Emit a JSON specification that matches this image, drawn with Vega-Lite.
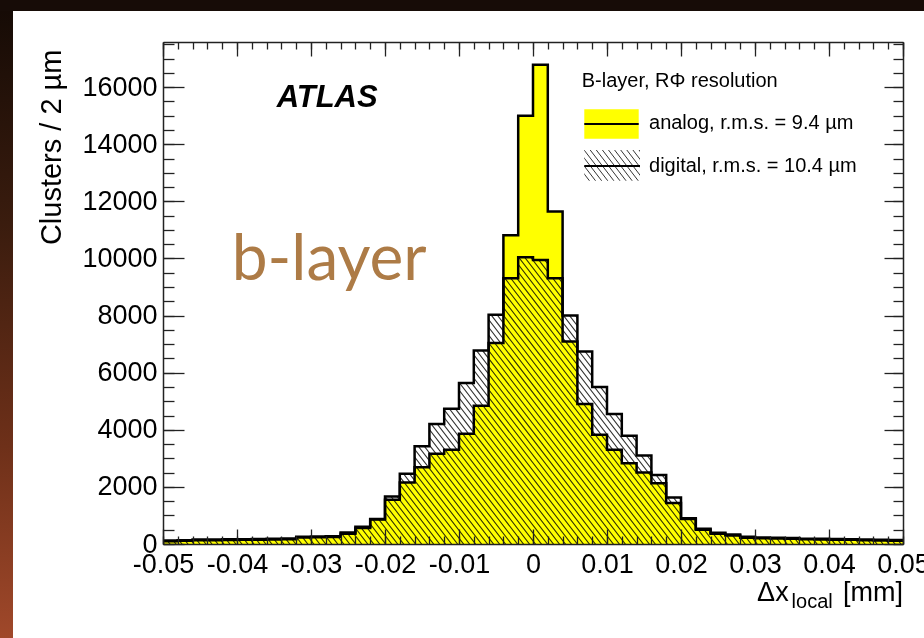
{
"$schema": "https://vega.github.io/schema/vega-lite/v6.json",
"width": 740, "height": 502,
"autosize": "none",
"padding": {"left": 163, "top": 42, "right": 21, "bottom": 94},
"background": "white",
"config": {
  "view": {"stroke": null},
  "locale": {"number": {"decimal": ".", "thousands": ",", "grouping": [3], "currency": ["$", ""], "minus": "-"}},
  "axis": {"labelFont": "Liberation Sans", "labelFontSize": 27, "labelColor": "#000", "tickColor": "#222", "tickWidth": 1.3, "domainColor": "#222", "domainWidth": 1.5, "grid": false, "zindex": 1, "titleFont": "Liberation Sans", "titleColor": "#000", "labelFlush": false, "labelOverlap": false, "labelBound": false},
  "text": {"font": "Liberation Sans"}
},
"data": {"values": [
{"lo":-0.05,"hi":-0.048,"analog":100,"digital":125},
{"lo":-0.048,"hi":-0.046,"analog":110,"digital":130},
{"lo":-0.046,"hi":-0.044,"analog":130,"digital":160},
{"lo":-0.044,"hi":-0.042,"analog":135,"digital":160},
{"lo":-0.042,"hi":-0.04,"analog":140,"digital":165},
{"lo":-0.04,"hi":-0.038,"analog":145,"digital":170},
{"lo":-0.038,"hi":-0.036,"analog":150,"digital":175},
{"lo":-0.036,"hi":-0.034,"analog":160,"digital":180},
{"lo":-0.034,"hi":-0.032,"analog":170,"digital":190},
{"lo":-0.032,"hi":-0.03,"analog":225,"digital":250},
{"lo":-0.03,"hi":-0.028,"analog":235,"digital":260},
{"lo":-0.028,"hi":-0.026,"analog":245,"digital":275},
{"lo":-0.026,"hi":-0.024,"analog":360,"digital":400},
{"lo":-0.024,"hi":-0.022,"analog":560,"digital":600},
{"lo":-0.022,"hi":-0.02,"analog":860,"digital":880},
{"lo":-0.02,"hi":-0.018,"analog":1550,"digital":1660},
{"lo":-0.018,"hi":-0.016,"analog":2150,"digital":2460},
{"lo":-0.016,"hi":-0.014,"analog":2690,"digital":3420},
{"lo":-0.014,"hi":-0.012,"analog":3160,"digital":4200},
{"lo":-0.012,"hi":-0.01,"analog":3300,"digital":4740},
{"lo":-0.01,"hi":-0.008,"analog":3860,"digital":5640},
{"lo":-0.008,"hi":-0.006,"analog":4840,"digital":6780},
{"lo":-0.006,"hi":-0.004,"analog":7040,"digital":8030},
{"lo":-0.004,"hi":-0.002,"analog":10810,"digital":9310},
{"lo":-0.002,"hi":0,"analog":15000,"digital":10040},
{"lo":0,"hi":0.002,"analog":16790,"digital":9950},
{"lo":0.002,"hi":0.004,"analog":11650,"digital":9310},
{"lo":0.004,"hi":0.006,"analog":7090,"digital":8000},
{"lo":0.006,"hi":0.008,"analog":4900,"digital":6740},
{"lo":0.008,"hi":0.01,"analog":3830,"digital":5500},
{"lo":0.01,"hi":0.012,"analog":3300,"digital":4550},
{"lo":0.012,"hi":0.014,"analog":2830,"digital":3790},
{"lo":0.014,"hi":0.016,"analog":2500,"digital":3100},
{"lo":0.016,"hi":0.018,"analog":2130,"digital":2420},
{"lo":0.018,"hi":0.02,"analog":1440,"digital":1630},
{"lo":0.02,"hi":0.022,"analog":880,"digital":900},
{"lo":0.022,"hi":0.024,"analog":500,"digital":530},
{"lo":0.024,"hi":0.026,"analog":360,"digital":390},
{"lo":0.026,"hi":0.028,"analog":300,"digital":330},
{"lo":0.028,"hi":0.03,"analog":220,"digital":250},
{"lo":0.03,"hi":0.032,"analog":200,"digital":230},
{"lo":0.032,"hi":0.034,"analog":190,"digital":220},
{"lo":0.034,"hi":0.036,"analog":180,"digital":210},
{"lo":0.036,"hi":0.038,"analog":165,"digital":185},
{"lo":0.038,"hi":0.04,"analog":155,"digital":180},
{"lo":0.04,"hi":0.042,"analog":150,"digital":175},
{"lo":0.042,"hi":0.044,"analog":145,"digital":170},
{"lo":0.044,"hi":0.046,"analog":130,"digital":155},
{"lo":0.046,"hi":0.048,"analog":120,"digital":145},
{"lo":0.048,"hi":0.05,"analog":115,"digital":140}
]},
"resolve": {"axis": {"x": "independent", "y": "independent"}},
"layer": [
{
  "data": {"values": [{}]},
  "mark": {"type": "rect", "clip": false, "fill": {"gradient": "linear", "x1": 0, "y1": 0, "x2": 0, "y2": 1, "stops": [{"offset": 0, "color": "#140a05"}, {"offset": 0.35, "color": "#3a1c0e"}, {"offset": 0.7, "color": "#6e3019"}, {"offset": 1, "color": "#a0482a"}]}},
  "encoding": {
    "x": {"datum": -0.072027, "scale": {"domain": [-0.05, 0.05], "nice": false, "zero": false}, "axis": null},
    "x2": {"datum": -0.07027},
    "y": {"datum": 19054, "scale": {"domain": [0, 17583], "nice": false, "zero": false}, "axis": null},
    "y2": {"datum": -3293}
  }
},
{
  "data": {"values": [{}]},
  "mark": {"type": "rect", "clip": false, "fill": "#170c07"},
  "encoding": {
    "x": {"datum": -0.072027, "scale": {"domain": [-0.05, 0.05], "nice": false, "zero": false}, "axis": null},
    "x2": {"datum": 0.052838},
    "y": {"datum": 19054, "scale": {"domain": [0, 17583], "nice": false, "zero": false}, "axis": null},
    "y2": {"datum": 18669}
  }
},
{
  "data": {"values": [{}]},
  "mark": {"type": "rule", "clip": true, "color": "#333333", "strokeWidth": 900, "strokeDash": [1.1, 3.65], "strokeCap": "butt"},
  "encoding": {
    "x": {"datum": -0.04932, "scale": {"domain": [-0.05, 0.05], "nice": false, "zero": false}, "axis": null},
    "x2": {"datum": 0.04932},
    "y": {"datum": -1037, "scale": {"domain": [0, 17583], "nice": false, "zero": false}, "axis": null},
    "y2": {"datum": 18620}
  }
},
{
  "transform": [{"fold": ["lo", "hi"], "as": ["side", "edge"]}],
  "mark": {"type": "area", "orient": "vertical", "fill": "white", "interpolate": "linear"},
  "encoding": {
    "x": {"field": "edge", "type": "quantitative", "scale": {"domain": [-0.05, 0.05], "nice": false, "zero": false},
      "axis": {"orient": "bottom", "zindex": 2, "values": [-0.05, -0.04, -0.03, -0.02, -0.01, 0, 0.01, 0.02, 0.03, 0.04, 0.05], "format": ".2~f", "tickSize": -15, "labelPadding": 22, "domain": true, "title": null}},
    "y": {"field": "digital", "type": "quantitative", "stack": null, "scale": {"domain": [0, 17583], "nice": false, "zero": false},
      "axis": {"orient": "left", "zindex": 2, "values": [0, 2000, 4000, 6000, 8000, 10000, 12000, 14000, 16000], "format": "d", "tickSize": -21, "labelPadding": 27, "domain": true,
        "title": "Clusters / 2 µm", "titleFontSize": 29, "titleFontWeight": "normal", "titleAngle": 270, "titleAlign": "right", "titleBaseline": "alphabetic", "titleX": -103, "titleY": 7}},
    "y2": {"datum": 17583},
    "order": [{"field": "edge", "type": "quantitative", "sort": "ascending"}, {"field": "side", "type": "nominal", "sort": "ascending"}]
  }
},
{
  "transform": [{"fold": ["lo", "hi"], "as": ["side", "edge"]}],
  "mark": {"type": "area", "orient": "vertical", "fill": "#ffff00", "interpolate": "linear", "blend": "multiply"},
  "encoding": {
    "x": {"field": "edge", "type": "quantitative", "scale": {"domain": [-0.05, 0.05], "nice": false, "zero": false},
      "axis": {"orient": "bottom", "zindex": 2, "values": [-0.05, -0.048, -0.046, -0.044, -0.042, -0.04, -0.038, -0.036, -0.034, -0.032, -0.03, -0.028, -0.026, -0.024, -0.022, -0.02, -0.018, -0.016, -0.014, -0.012, -0.01, -0.008, -0.006, -0.004, -0.002, 0, 0.002, 0.004, 0.006, 0.008, 0.01, 0.012, 0.014, 0.016, 0.018, 0.02, 0.022, 0.024, 0.026, 0.028, 0.03, 0.032, 0.034, 0.036, 0.038, 0.04, 0.042, 0.044, 0.046, 0.048, 0.05], "tickSize": -8, "labels": false, "domain": false, "title": null}},
    "y": {"field": "analog", "type": "quantitative", "stack": null, "scale": {"domain": [0, 17583], "nice": false, "zero": false},
      "axis": {"orient": "left", "zindex": 2, "values": [0, 500, 1000, 1500, 2000, 2500, 3000, 3500, 4000, 4500, 5000, 5500, 6000, 6500, 7000, 7500, 8000, 8500, 9000, 9500, 10000, 10500, 11000, 11500, 12000, 12500, 13000, 13500, 14000, 14500, 15000, 15500, 16000, 16500, 17000, 17500], "tickSize": -11, "labels": false, "domain": false, "title": null}},
    "order": [{"field": "edge", "type": "quantitative", "sort": "ascending"}, {"field": "side", "type": "nominal", "sort": "ascending"}]
  }
},
{
  "transform": [{"fold": ["lo", "hi"], "as": ["side", "edge"]}],
  "mark": {"type": "line", "color": "#000", "strokeWidth": 2.5, "interpolate": "linear", "strokeJoin": "miter"},
  "encoding": {
    "x": {"field": "edge", "type": "quantitative", "scale": {"domain": [-0.05, 0.05], "nice": false, "zero": false},
      "axis": {"orient": "top", "zindex": 2, "values": [-0.05, -0.04, -0.03, -0.02, -0.01, 0, 0.01, 0.02, 0.03, 0.04, 0.05], "tickSize": -14, "labels": false, "domain": true, "title": null}},
    "y": {"field": "analog", "type": "quantitative", "stack": null, "scale": {"domain": [0, 17583], "nice": false, "zero": false},
      "axis": {"orient": "right", "zindex": 2, "values": [0, 2000, 4000, 6000, 8000, 10000, 12000, 14000, 16000], "tickSize": -19, "labels": false, "domain": true, "title": null}},
    "order": [{"field": "edge", "type": "quantitative", "sort": "ascending"}, {"field": "side", "type": "nominal", "sort": "ascending"}]
  }
},
{
  "transform": [{"fold": ["lo", "hi"], "as": ["side", "edge"]}],
  "mark": {"type": "line", "color": "#000", "strokeWidth": 2.5, "interpolate": "linear", "strokeJoin": "miter"},
  "encoding": {
    "x": {"field": "edge", "type": "quantitative", "scale": {"domain": [-0.05, 0.05], "nice": false, "zero": false},
      "axis": {"orient": "top", "zindex": 2, "values": [-0.05, -0.048, -0.046, -0.044, -0.042, -0.04, -0.038, -0.036, -0.034, -0.032, -0.03, -0.028, -0.026, -0.024, -0.022, -0.02, -0.018, -0.016, -0.014, -0.012, -0.01, -0.008, -0.006, -0.004, -0.002, 0, 0.002, 0.004, 0.006, 0.008, 0.01, 0.012, 0.014, 0.016, 0.018, 0.02, 0.022, 0.024, 0.026, 0.028, 0.03, 0.032, 0.034, 0.036, 0.038, 0.04, 0.042, 0.044, 0.046, 0.048, 0.05], "tickSize": -7, "labels": false, "domain": false, "title": null}},
    "y": {"field": "digital", "type": "quantitative", "stack": null, "scale": {"domain": [0, 17583], "nice": false, "zero": false},
      "axis": {"orient": "right", "zindex": 2, "values": [0, 500, 1000, 1500, 2000, 2500, 3000, 3500, 4000, 4500, 5000, 5500, 6000, 6500, 7000, 7500, 8000, 8500, 9000, 9500, 10000, 10500, 11000, 11500, 12000, 12500, 13000, 13500, 14000, 14500, 15000, 15500, 16000, 16500, 17000, 17500], "tickSize": -10, "labels": false, "domain": false, "title": null}},
    "order": [{"field": "edge", "type": "quantitative", "sort": "ascending"}, {"field": "side", "type": "nominal", "sort": "ascending"}]
  }
},
{
  "data": {"values": [{}]},
  "mark": {"type": "rect", "fill": "#ffff00"},
  "encoding": {
    "x": {"datum": 0.006932, "scale": {"domain": [-0.05, 0.05], "nice": false, "zero": false}, "axis": null},
    "x2": {"datum": 0.014284},
    "y": {"datum": 15226, "scale": {"domain": [0, 17583], "nice": false, "zero": false}, "axis": null},
    "y2": {"datum": 14196}
  }
},
{
  "data": {"values": [{}]},
  "mark": {"type": "rect", "fill": {"gradient": "linear", "x1": 1, "y1": 0, "x2": -0.207, "y2": 0.5114, "stops": [
    {"offset":0,"color":"#fff"},{"offset":0.0126,"color":"#333"},{"offset":0.0252,"color":"#fff"},
    {"offset":0.0769,"color":"#fff"},{"offset":0.0895,"color":"#333"},{"offset":0.1021,"color":"#fff"},
    {"offset":0.1538,"color":"#fff"},{"offset":0.1664,"color":"#333"},{"offset":0.179,"color":"#fff"},
    {"offset":0.2308,"color":"#fff"},{"offset":0.2434,"color":"#333"},{"offset":0.256,"color":"#fff"},
    {"offset":0.3077,"color":"#fff"},{"offset":0.3203,"color":"#333"},{"offset":0.3329,"color":"#fff"},
    {"offset":0.3846,"color":"#fff"},{"offset":0.3972,"color":"#333"},{"offset":0.4098,"color":"#fff"},
    {"offset":0.4615,"color":"#fff"},{"offset":0.4741,"color":"#333"},{"offset":0.4867,"color":"#fff"},
    {"offset":0.5385,"color":"#fff"},{"offset":0.5511,"color":"#333"},{"offset":0.5637,"color":"#fff"},
    {"offset":0.6154,"color":"#fff"},{"offset":0.628,"color":"#333"},{"offset":0.6406,"color":"#fff"},
    {"offset":0.6923,"color":"#fff"},{"offset":0.7049,"color":"#333"},{"offset":0.7175,"color":"#fff"},
    {"offset":0.7692,"color":"#fff"},{"offset":0.7818,"color":"#333"},{"offset":0.7944,"color":"#fff"},
    {"offset":0.8462,"color":"#fff"},{"offset":0.8588,"color":"#333"},{"offset":0.8714,"color":"#fff"},
    {"offset":0.9231,"color":"#fff"},{"offset":0.9357,"color":"#333"},{"offset":0.9483,"color":"#fff"},
    {"offset":1,"color":"#fff"}]}},
  "encoding": {
    "x": {"datum": 0.006932, "scale": {"domain": [-0.05, 0.05], "nice": false, "zero": false}, "axis": null},
    "x2": {"datum": 0.014459},
    "y": {"datum": 13800, "scale": {"domain": [0, 17583], "nice": false, "zero": false}, "axis": null},
    "y2": {"datum": 12725}
  }
},
{
  "data": {"values": [{}]},
  "mark": {"type": "rule", "color": "#000", "strokeWidth": 2},
  "encoding": {
    "x": {"datum": 0.006932, "scale": {"domain": [-0.05, 0.05], "nice": false, "zero": false}, "axis": null},
    "x2": {"datum": 0.014284},
    "y": {"datum": 14711, "scale": {"domain": [0, 17583], "nice": false, "zero": false}, "axis": null}
  }
},
{
  "data": {"values": [{}]},
  "mark": {"type": "rule", "color": "#000", "strokeWidth": 2},
  "encoding": {
    "x": {"datum": 0.006932, "scale": {"domain": [-0.05, 0.05], "nice": false, "zero": false}, "axis": null},
    "x2": {"datum": 0.014459},
    "y": {"datum": 13240, "scale": {"domain": [0, 17583], "nice": false, "zero": false}, "axis": null}
  }
},
{
  "data": {"values": [{}]},
  "mark": {"type": "text", "text": "ATLAS", "font": "Liberation Sans", "fontSize": 31, "fontWeight": "bold", "fontStyle": "italic", "align": "left", "baseline": "alphabetic", "color": "#000"},
  "encoding": {
    "x": {"datum": -0.03464, "scale": {"domain": [-0.05, 0.05], "nice": false, "zero": false}, "axis": null},
    "y": {"datum": 15317, "scale": {"domain": [0, 17583], "nice": false, "zero": false}, "axis": null}
  }
},
{
  "data": {"values": [{}]},
  "mark": {"type": "text", "text": "b-layer", "font": "Lato", "fontSize": 64, "align": "left", "baseline": "alphabetic", "color": "#ad7b46"},
  "encoding": {
    "x": {"datum": -0.04072, "scale": {"domain": [-0.05, 0.05], "nice": false, "zero": false}, "axis": null},
    "y": {"datum": 9247, "scale": {"domain": [0, 17583], "nice": false, "zero": false}, "axis": null}
  }
},
{
  "data": {"values": [{}]},
  "mark": {"type": "text", "text": "B-layer, RΦ resolution", "font": "Liberation Sans", "fontSize": 20, "align": "left", "baseline": "alphabetic", "color": "#000"},
  "encoding": {
    "x": {"datum": 0.006581, "scale": {"domain": [-0.05, 0.05], "nice": false, "zero": false}, "axis": null},
    "y": {"datum": 16018, "scale": {"domain": [0, 17583], "nice": false, "zero": false}, "axis": null}
  }
},
{
  "data": {"values": [{}]},
  "mark": {"type": "text", "text": "analog, r.m.s. = 9.4 µm", "font": "Liberation Sans", "fontSize": 20, "align": "left", "baseline": "alphabetic", "color": "#000"},
  "encoding": {
    "x": {"datum": 0.015676, "scale": {"domain": [-0.05, 0.05], "nice": false, "zero": false}, "axis": null},
    "y": {"datum": 14525, "scale": {"domain": [0, 17583], "nice": false, "zero": false}, "axis": null}
  }
},
{
  "data": {"values": [{}]},
  "mark": {"type": "text", "text": "digital, r.m.s. = 10.4 µm", "font": "Liberation Sans", "fontSize": 20, "align": "left", "baseline": "alphabetic", "color": "#000"},
  "encoding": {
    "x": {"datum": 0.015676, "scale": {"domain": [-0.05, 0.05], "nice": false, "zero": false}, "axis": null},
    "y": {"datum": 13040, "scale": {"domain": [0, 17583], "nice": false, "zero": false}, "axis": null}
  }
},
{
  "data": {"values": [{}]},
  "mark": {"type": "text", "text": "Δx", "font": "Liberation Sans", "fontSize": 27, "align": "right", "baseline": "alphabetic", "color": "#000"},
  "encoding": {
    "x": {"datum": 0.03455, "scale": {"domain": [-0.05, 0.05], "nice": false, "zero": false}, "axis": null},
    "y": {"datum": -1997, "scale": {"domain": [0, 17583], "nice": false, "zero": false}, "axis": null}
  }
},
{
  "data": {"values": [{}]},
  "mark": {"type": "text", "text": "local", "font": "Liberation Sans", "fontSize": 20, "align": "right", "baseline": "alphabetic", "color": "#000"},
  "encoding": {
    "x": {"datum": 0.0405, "scale": {"domain": [-0.05, 0.05], "nice": false, "zero": false}, "axis": null},
    "y": {"datum": -2242, "scale": {"domain": [0, 17583], "nice": false, "zero": false}, "axis": null}
  }
},
{
  "data": {"values": [{}]},
  "mark": {"type": "text", "text": "[mm]", "font": "Liberation Sans", "fontSize": 27, "align": "right", "baseline": "alphabetic", "color": "#000"},
  "encoding": {
    "x": {"datum": 0.05, "scale": {"domain": [-0.05, 0.05], "nice": false, "zero": false}, "axis": null},
    "y": {"datum": -1997, "scale": {"domain": [0, 17583], "nice": false, "zero": false}, "axis": null}
  }
}
]
}
